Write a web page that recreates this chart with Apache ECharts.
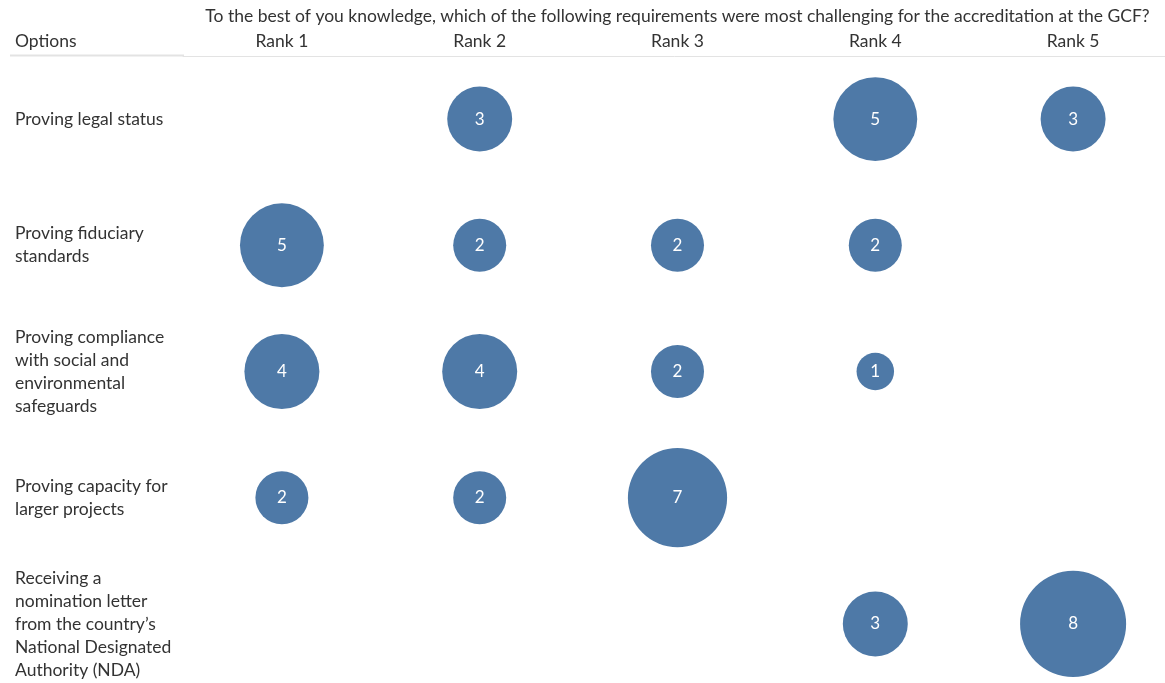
<!DOCTYPE html>
<html>
<head>
<meta charset="utf-8">
<script src="https://cdn.jsdelivr.net/npm/echarts@6/dist/echarts.min.js"></script>
<style>
html,body{margin:0;padding:0;background:#fff;}
#chart{width:1165px;height:683px;}
</style>
</head>
<body>
<div id="chart"></div>
<script>
const title = 'To the best of you knowledge, which of the following requirements were most challenging for the accreditation at the GCF?';
const ranks = ['Rank 1', 'Rank 2', 'Rank 3', 'Rank 4', 'Rank 5'];
const options = [
  'Proving legal status',
  'Proving fiduciary\nstandards',
  'Proving compliance\nwith social and\nenvironmental\nsafeguards',
  'Proving capacity for\nlarger projects',
  'Receiving a\nnomination letter\nfrom the country\u2019s\nNational Designated\nAuthority (NDA)'
];
// counts per option, one value per rank (null = no bubble)
const legalStatus = [null, 3, null, 5, 3];
const fiduciary   = [5, 2, 2, 2, null];
const safeguards  = [4, 4, 2, 1, null];
const capacity    = [2, 2, 7, null, null];
const nomination  = [null, null, null, 3, 8];
const rows = [legalStatus, fiduciary, safeguards, capacity, nomination];

const data = [];
rows.forEach((row, oi) => {
  row.forEach((v, ri) => {
    if (v != null) data.push([ranks[ri], options[oi], v]);
  });
});

const FONT = 'Lato';
const FS = 17.5;
const TXT = '#333333';
const chart = echarts.init(document.getElementById('chart'));
chart.setOption({
  animation: false,
  textStyle: { fontFamily: FONT },
  grid: { left: 183, top: 56, width: 989, height: 631, outerBoundsMode: 'none', containLabel: false },
  xAxis: {
    type: 'category',
    position: 'top',
    data: ranks,
    axisLine: { show: true, lineStyle: { color: '#e3e3e3', width: 1 } },
    axisTick: { show: false },
    axisLabel: { color: TXT, fontSize: FS, fontFamily: FONT, margin: 6 },
    splitLine: { show: false }
  },
  yAxis: {
    type: 'category',
    inverse: true,
    data: options,
    axisLine: { show: false },
    axisTick: { show: false },
    axisLabel: { color: TXT, fontSize: FS, fontFamily: FONT, align: 'left', margin: 168, lineHeight: 23 },
    splitLine: { show: false }
  },
  graphic: [
    { type: 'text', x: 677.5, y: 7, style: { text: title, fill: TXT, font: FS + 'px ' + FONT, textAlign: 'center' } },
    { type: 'text', x: 15, y: 32, style: { text: 'Options', fill: TXT, font: FS + 'px ' + FONT } },
    { type: 'line', shape: { x1: 10, y1: 55.5, x2: 184, y2: 55.5 }, style: { stroke: '#e3e3e3', lineWidth: 2 } }
  ],
  series: [{
    type: 'scatter',
    data: data,
    symbolSize: d => 37.5 * Math.sqrt(d[2]),
    itemStyle: { color: '#4e79a7', opacity: 1 },
    label: {
      show: true,
      position: 'inside',
      formatter: p => p.value[2],
      color: '#ffffff',
      fontSize: 17,
      fontFamily: FONT
    }
  }]
});
</script>
</body>
</html>
